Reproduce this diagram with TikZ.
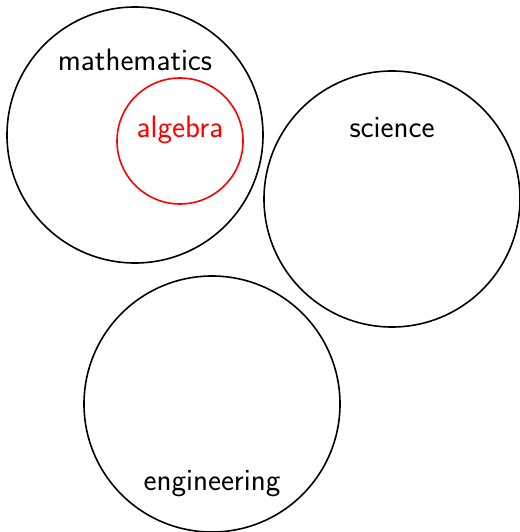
\documentclass[tikz,border=0pt]{standalone}
\begin{document}
\begin{tikzpicture}[x=1pt,y=-1pt,
  ring/.style={draw=black,line width=1.6pt,circle,inner sep=0pt},
  lbl/.style={font=\sffamily\fontsize{31}{36}\selectfont,inner sep=0pt,anchor=base}]
\useasboundingbox (0,0) rectangle (519,532);
\node[ring,minimum size=256pt] (math) at (135,135) {};
\node[ring,draw=red,minimum size=126pt] (alg) at (180,141) {};
\node[ring,minimum size=256pt] (sci) at (392,199) {};
\node[ring,minimum size=256pt] (eng) at (212,404) {};
\node[lbl] (tmath) at (135,71) {mathematics};
\node[lbl,text=red] (talg) at (180,137) {algebra};
\node[lbl] (tsci) at (392,137) {science};
\node[lbl] (teng) at (212,490) {engineering};
\end{tikzpicture}
\end{document}
